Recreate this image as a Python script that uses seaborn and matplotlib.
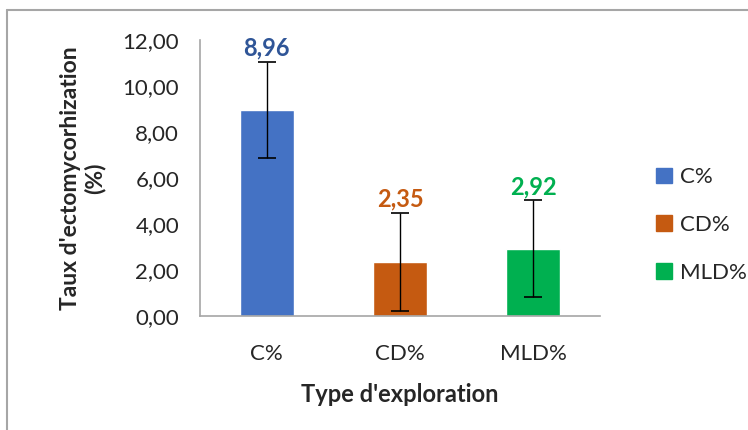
import numpy as np
import pandas as pd
import seaborn as sns
import matplotlib.pyplot as plt
from matplotlib.lines import Line2D
from matplotlib.patches import Patch

categories = ["C%", "CD%", "MLD%"]
values = [8.96, 2.35, 2.92]
errors = [2.10, 2.12, 2.11]
colors = ["#4472C4", "#C55A11", "#00B050"]
label_colors = ["#2F5597", "#C55A11", "#00B050"]

df = pd.DataFrame({"type": categories, "taux": values})

sns.set_style("white")
plt.rcParams['font.family'] = ['Lato', 'DejaVu Sans']

fig = plt.figure(figsize=(7.48, 4.30), dpi=100)
ax = fig.add_axes([200 / 748, 1 - 316 / 430, 400 / 748, 276 / 430])

sns.barplot(data=df, x="type", y="taux", hue="type", palette=colors, saturation=1,
            width=0.405, dodge=False, legend=False, ax=ax)
ax.errorbar(np.arange(len(values)), values, yerr=errors, fmt="none",
            ecolor="black", elinewidth=1, capsize=6.5, capthick=1.2)

# value labels above the error bars
for i, v in enumerate(values):
    ax.text(i, v + errors[i] + 0.1, f"{v:.2f}".replace(".", ","),
            ha="center", va="bottom", fontsize=17, fontweight="bold",
            color=label_colors[i])

ax.set_ylim(0, 12)
ax.set_xlim(-0.5, 2.5)
yt = np.arange(0, 13, 2)
ax.set_yticks(yt)
ax.set_yticklabels([f"{t:.2f}".replace(".", ",") for t in yt], fontsize=16)
ax.set_xticks([0, 1, 2])
ax.set_xticklabels(categories, fontsize=16)
ax.set_xticks([-0.5, 0.5, 1.5, 2.5], minor=True)
ax.tick_params(axis="x", which="major", length=0, pad=20)
ax.tick_params(axis="x", which="minor", length=7, width=1, color="#A6A6A6", direction="out")
ax.tick_params(axis="y", length=6, width=1, color="#A6A6A6", direction="out", pad=9)

for s in ["top", "right"]:
    ax.spines[s].set_visible(False)
for s in ["left", "bottom"]:
    ax.spines[s].set_color("#A6A6A6")
    ax.spines[s].set_linewidth(1.2)

ax.set_xlabel("Type d'exploration", fontsize=17, fontweight="bold", labelpad=14)
ax.set_ylabel("Taux d'ectomycorhization\n(%)", fontsize=16.5, fontweight="bold",
              labelpad=12, linespacing=1.15)

handles = [Patch(facecolor=c, edgecolor=c) for c in colors]
fig.legend(handles, categories, loc="center left", bbox_to_anchor=(636 / 748, 1 - 225 / 430),
           frameon=False, fontsize=16, handlelength=0.7, handleheight=0.7,
           handletextpad=0.4, labelspacing=1.25)

# outer chart border (top and left visible)
fig.add_artist(Line2D([7 / 748, 1], [1 - 10 / 430, 1 - 10 / 430], color="#A6A6A6", lw=1.5))
fig.add_artist(Line2D([7 / 748, 7 / 748], [0, 1 - 10 / 430], color="#A6A6A6", lw=1.5))

fig.savefig("out.png", dpi=100, facecolor="white")
